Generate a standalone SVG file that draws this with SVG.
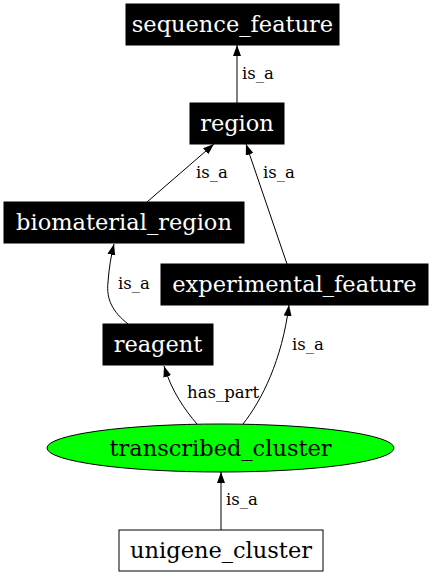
<svg xmlns="http://www.w3.org/2000/svg" width="433" height="576" viewBox="0 0 433 576">
<style>
.n rect.b{fill:#000;stroke:#000;}
.nt{font-family:"DejaVu Serif",serif;font-size:22.5px;text-anchor:middle;fill:#fff;}
.dt{fill:#000;}
.e path{fill:none;stroke:#000;stroke-width:1;}
.lt{font-family:"DejaVu Serif",serif;font-size:16.5px;fill:#000;}
</style>
<defs>
<marker id="ah" markerUnits="userSpaceOnUse" markerWidth="12" markerHeight="10" refX="11" refY="4" orient="auto">
<polygon points="0,0 11,4 0,8" fill="#000"/>
</marker>
</defs>
<rect width="433" height="576" fill="#fff"/>
<g class="e" id="edges">
<path d="M237,103 L237,45" marker-end="url(#ah)"/>
<path d="M147,202 L214,144" marker-end="url(#ah)"/>
<path d="M287,264 L246,144" marker-end="url(#ah)"/>
<path d="M128,324 C113,312 106,300 108,282 C109,268 111,256 114,244" marker-end="url(#ah)"/>
<path d="M197,424 C185,410 172,392 164,366" marker-end="url(#ah)"/>
<path d="M243,424 C262,400 282,360 289,305" marker-end="url(#ah)"/>
<path d="M221,530 L221,472" marker-end="url(#ah)"/>
<text class="lt" x="242" y="79">is_a</text>
<text class="lt" x="196" y="178">is_a</text>
<text class="lt" x="263" y="178">is_a</text>
<text class="lt" x="118" y="289">is_a</text>
<text class="lt" x="187" y="398">has_part</text>
<text class="lt" x="292" y="350">is_a</text>
<text class="lt" x="226" y="505">is_a</text>
</g>
<g class="n" id="sequence_feature"><rect class="b" x="126" y="4" width="213" height="41"/><text class="nt" x="232.5" y="32">sequence_feature</text></g>
<g class="n" id="region"><rect class="b" x="190" y="103" width="94" height="41"/><text class="nt" x="237" y="131">region</text></g>
<g class="n" id="biomaterial_region"><rect class="b" x="4" y="202" width="240" height="41"/><text class="nt" x="124" y="230">biomaterial_region</text></g>
<g class="n" id="experimental_feature"><rect class="b" x="161" y="264" width="267" height="41"/><text class="nt" x="294.5" y="292">experimental_feature</text></g>
<g class="n" id="reagent"><rect class="b" x="103" y="324" width="110" height="41"/><text class="nt" x="158" y="352">reagent</text></g>
<g class="n" id="transcribed_cluster"><ellipse cx="220.5" cy="448" rx="173.5" ry="24" fill="#00ff00" stroke="#000"/><text class="nt dt" x="220.5" y="456">transcribed_cluster</text></g>
<g class="n" id="unigene_cluster"><rect x="119" y="530" width="204" height="41" fill="#fff" stroke="#000"/><text class="nt dt" x="221" y="558">unigene_cluster</text></g>
</svg>
